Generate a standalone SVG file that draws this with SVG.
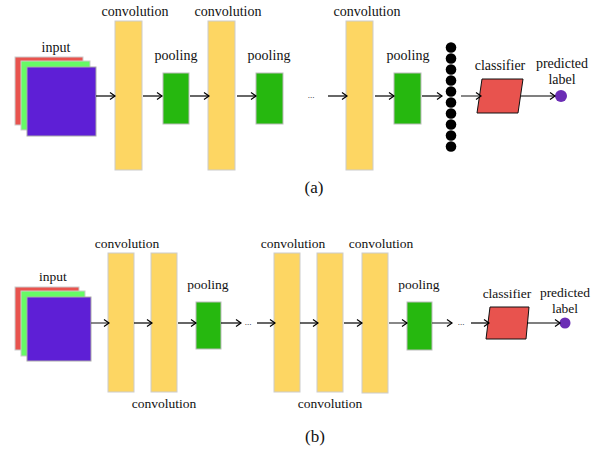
<svg xmlns="http://www.w3.org/2000/svg" width="605" height="451" viewBox="0 0 605 451" font-family="Liberation Serif, DejaVu Serif, serif">
<defs>
<marker id="ah" markerWidth="10" markerHeight="10" refX="8" refY="5" orient="auto" markerUnits="userSpaceOnUse">
<path d="M3,1.5 L8,5 L3,8.5" fill="none" stroke="#000" stroke-width="1.2"/>
</marker>
</defs>
<style>
text{font-family:'Liberation Serif','DejaVu Serif',serif;fill:#111;text-anchor:middle}
.la{font-size:14px}
.lb{font-size:13.5px}
.cap{font-size:17px}
.dots{font-size:9px}
.conv{fill:#fdd663;stroke:#ccc;stroke-width:1}
.pool{fill:#26b80f;stroke:#bbb;stroke-width:1}
.r{fill:#e8534e;stroke:#ccc;stroke-width:1}
.g{fill:#66fa66;stroke:#ccc;stroke-width:1}
.p{fill:#5e1fd6;stroke:#aaa;stroke-width:1}
.cls{fill:#e8534e;stroke:#111;stroke-width:1}
.out{fill:#6b2db5}
.dot{fill:#000}
.e{stroke:#000;stroke-width:1.2;fill:none;marker-end:url(#ah)}
.eg{stroke:#555;stroke-width:1.4;fill:none;marker-end:url(#ah)}
</style>
<!-- (a) -->
<g id="a-input"><rect class="r" x="15" y="57" width="68" height="68"/><rect class="g" x="21" y="61" width="69" height="69"/><rect class="p" x="27" y="67" width="69" height="69"/><text class="la" x="56" y="52">input</text></g>
<g id="a-conv1"><rect class="conv" x="115" y="21" width="27" height="149"/><text class="la" x="135" y="16">convolution</text></g>
<g id="a-pool1"><rect class="pool" x="163" y="73" width="26" height="51"/><text class="la" x="176" y="60">pooling</text></g>
<g id="a-conv2"><rect class="conv" x="208" y="21" width="27" height="149"/><text class="la" x="228" y="16">convolution</text></g>
<g id="a-pool2"><rect class="pool" x="256" y="73" width="27" height="51"/><text class="la" x="269" y="60">pooling</text></g>
<g id="a-ellipsis"><text class="dots" x="311" y="98">...</text></g>
<g id="a-conv3"><rect class="conv" x="346" y="21" width="27" height="149"/><text class="la" x="367" y="16">convolution</text></g>
<g id="a-pool3"><rect class="pool" x="394" y="73" width="27" height="51"/><text class="la" x="408" y="60">pooling</text></g>
<g id="a-flat">
<circle class="dot" cx="451" cy="47.5" r="5.3"/><circle class="dot" cx="451" cy="58.5" r="5.3"/><circle class="dot" cx="451" cy="69.5" r="5.3"/><circle class="dot" cx="451" cy="80.5" r="5.3"/><circle class="dot" cx="451" cy="91.5" r="5.3"/><circle class="dot" cx="451" cy="102.5" r="5.3"/><circle class="dot" cx="451" cy="113.5" r="5.3"/><circle class="dot" cx="451" cy="124.5" r="5.3"/><circle class="dot" cx="451" cy="135.5" r="5.3"/><circle class="dot" cx="451" cy="146.5" r="5.3"/>
</g>
<g id="a-classifier"><polygon class="cls" points="482,79 523,79 518,113 477,113"/><text class="la" x="500" y="70">classifier</text></g>
<g id="a-output"><circle class="out" cx="561" cy="96" r="6"/><text class="la" x="562" y="68">predicted</text><text class="la" x="562" y="84">label</text></g>
<text class="cap" x="314" y="193">(a)</text>
<!-- (b) -->
<g id="b-input"><rect class="r" x="15" y="287" width="64" height="63"/><rect class="g" x="21" y="291" width="64" height="65"/><rect class="p" x="27" y="297" width="64" height="64"/><text class="lb" x="53" y="281">input</text></g>
<g id="b-conv1"><rect class="conv" x="108" y="253" width="26" height="139"/><text class="lb" x="127" y="248">convolution</text></g>
<g id="b-conv2"><rect class="conv" x="151" y="253" width="26" height="139"/><text class="lb" x="164" y="408">convolution</text></g>
<g id="b-pool1"><rect class="pool" x="196" y="302" width="25" height="47"/><text class="lb" x="208" y="289">pooling</text></g>
<g id="b-ellipsis1"><text class="dots" x="248" y="325">...</text></g>
<g id="b-conv3"><rect class="conv" x="274" y="253" width="26" height="139"/><text class="lb" x="293" y="248">convolution</text></g>
<g id="b-conv4"><rect class="conv" x="317" y="253" width="26" height="139"/><text class="lb" x="330" y="408">convolution</text></g>
<g id="b-conv5"><rect class="conv" x="362" y="253" width="26" height="140"/><text class="lb" x="381" y="248">convolution</text></g>
<g id="b-pool2"><rect class="pool" x="407" y="302" width="25" height="48"/><text class="lb" x="419" y="289">pooling</text></g>
<g id="b-ellipsis2"><text class="dots" x="461" y="325">...</text></g>
<g id="b-classifier"><polygon class="cls" points="490,307 529,307 526,339 486,339"/><text class="lb" x="507" y="298">classifier</text></g>
<g id="b-output"><circle class="out" cx="565" cy="323" r="5.5"/><text class="lb" x="565" y="297">predicted</text><text class="lb" x="565" y="313">label</text></g>
<text class="cap" x="315" y="442">(b)</text>
<g id="connectors">
<line class="e" x1="96" y1="96" x2="115" y2="96"/>
<line class="e" x1="143" y1="96" x2="162" y2="96"/>
<line class="e" x1="190" y1="96" x2="209" y2="96"/>
<line class="e" x1="237" y1="96" x2="256" y2="96"/>
<line class="e" x1="328" y1="96" x2="347" y2="96"/>
<line class="e" x1="375" y1="96" x2="394" y2="96"/>
<line class="e" x1="422" y1="96" x2="442" y2="96"/>
<line class="eg" x1="461" y1="96" x2="481" y2="96"/>
<line class="eg" x1="521" y1="96" x2="555" y2="96"/>
<line class="eg" x1="91" y1="323" x2="109" y2="323"/>
<line class="e" x1="134" y1="323" x2="152" y2="323"/>
<line class="e" x1="178" y1="323" x2="196" y2="323"/>
<line class="e" x1="221" y1="323" x2="241" y2="323"/>
<line class="e" x1="257" y1="323" x2="275" y2="323"/>
<line class="e" x1="300" y1="323" x2="318" y2="323"/>
<line class="e" x1="344" y1="323" x2="362" y2="323"/>
<line class="eg" x1="389" y1="323" x2="407" y2="323"/>
<line class="eg" x1="432" y1="323" x2="452" y2="323"/>
<line class="e" x1="471" y1="323" x2="489" y2="323"/>
<line class="e" x1="527" y1="323" x2="560" y2="323"/>
</g>
</svg>
